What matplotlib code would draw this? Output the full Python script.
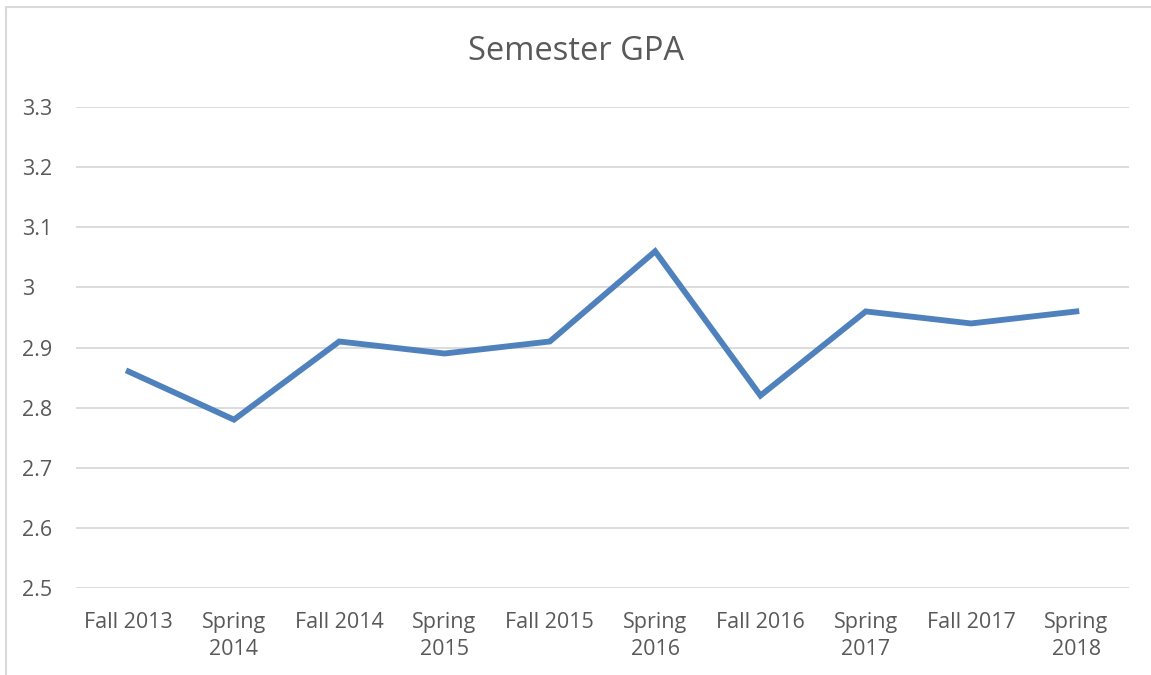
import matplotlib
matplotlib.use('Agg')
import matplotlib.pyplot as plt
from matplotlib.patches import Rectangle

# ---------------- data ----------------
semesters = ['Fall 2013', 'Spring\n2014', 'Fall 2014', 'Spring\n2015', 'Fall 2015',
             'Spring\n2016', 'Fall 2016', 'Spring\n2017', 'Fall 2017', 'Spring\n2018']
gpa = [2.86, 2.78, 2.91, 2.89, 2.91, 3.06, 2.82, 2.96, 2.94, 2.96]
yticks = [2.5, 2.6, 2.7, 2.8, 2.9, 3.0, 3.1, 3.2, 3.3]
ylabels = ['2.5', '2.6', '2.7', '2.8', '2.9', '3', '3.1', '3.2', '3.3']

plt.rcParams['font.family'] = ['Open Sans', 'DejaVu Sans']
txt = '#595959'
grid = '#d9d9d9'

fig = plt.figure(figsize=(11.51, 6.75), dpi=100)
ax = fig.add_axes([76 / 1151, 1 - 588 / 675, (1129 - 76) / 1151, (588 - 107) / 675])

x = list(range(len(gpa)))
ax.plot(x, gpa, color='#4f81bd', lw=4.2, solid_joinstyle='miter', zorder=3)

ax.set_xlim(-0.5, len(gpa) - 0.5)
ax.set_ylim(2.5, 3.3)
ax.set_yticks(yticks)
ax.set_yticklabels(ylabels)
ax.set_xticks(x)
ax.set_xticklabels(semesters, linespacing=1.38)
ax.grid(axis='y', color=grid, lw=1.3)
ax.set_axisbelow(True)
for s in ax.spines.values():
    s.set_visible(False)
ax.tick_params(axis='both', length=0, colors=txt, labelsize=15.5)
ax.tick_params(axis='x', pad=17)
ax.tick_params(axis='y', pad=39)
for lbl in ax.get_yticklabels():
    lbl.set_horizontalalignment('left')

fig.text(0.5, 1 - 52 / 675, 'Semester GPA', ha='center', va='center',
         fontsize=23.5, color=txt)

# outer chart border (cropped on the right and bottom)
fig.patches.append(Rectangle((6 / 1151, -0.1), 1.2, 1 - 7 / 675 + 0.1,
                             transform=fig.transFigure, fill=False,
                             edgecolor=grid, lw=1.5))

fig.savefig('out.png', dpi=100, facecolor='white')
